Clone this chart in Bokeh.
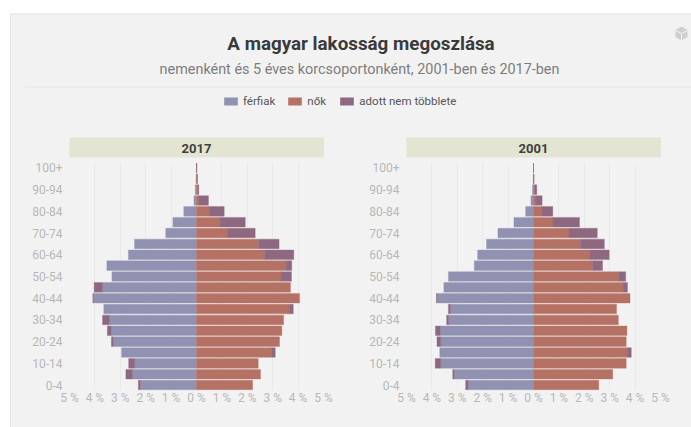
from bokeh.plotting import figure
from bokeh.layouts import column, row
from bokeh.embed import file_html
from bokeh.resources import INLINE
from bokeh.models import Range1d, FixedTicker, Legend, LegendItem
from bokeh.core.properties import value

title_text = "A magyar lakosság megoszlása"
subtitle_text = "nemenként és 5 éves korcsoportonként, 2001-ben és 2017-ben"
series_names = ["férfiak", "nők", "adott nem többlete"]
colors = ["#9192b2", "#b57264", "#8e6880"]
years = ["2017", "2001"]
categories = ["100+", "95-99", "90-94", "85-89", "80-84", "75-79", "70-74", "65-69", "60-64", "55-59", "50-54",
              "45-49", "40-44", "35-39", "30-34", "25-29", "20-24", "15-19", "10-14", "5-9", "0-4"]
male_2017 = [0.0, 0.02, 0.05, 0.10, 0.50, 0.93, 1.21, 2.44, 2.68, 3.53, 3.33,
             4.03, 4.08, 3.65, 3.70, 3.51, 3.35, 2.95, 2.67, 2.78, 2.29]
female_2017 = [0.02, 0.04, 0.09, 0.47, 1.09, 1.92, 2.31, 3.25, 3.83, 3.75, 3.74,
               3.70, 4.06, 3.81, 3.43, 3.36, 3.27, 3.10, 2.43, 2.52, 2.21]
male_2001 = [0.0, 0.01, 0.04, 0.10, 0.31, 0.77, 1.40, 1.85, 2.20, 2.33, 3.35,
             3.53, 3.82, 3.35, 3.42, 3.86, 3.80, 3.69, 3.87, 3.18, 2.67]
female_2001 = [0.0, 0.02, 0.13, 0.34, 0.76, 1.81, 2.51, 2.79, 2.98, 2.72, 3.63,
               3.70, 3.80, 3.27, 3.34, 3.68, 3.65, 3.85, 3.65, 3.12, 2.57]
pct_ticks = [-5, -4, -3, -2, -1, 0, 1, 2, 3, 4, 5]

FONT = "Roboto"
CARD = "#f2f2f2"


def panel(male, female, width, left, right):
    p = figure(width=width, height=267, output_backend="svg", toolbar_location=None,
               x_range=Range1d(-5, 5), y_range=Range1d(20.5, -0.5),
               min_border_left=left, min_border_right=right, min_border_top=2, min_border_bottom=37,
               background_fill_color=CARD, border_fill_color=CARD, outline_line_color=None)
    ys = list(range(len(categories)))
    base = [min(a, b) for a, b in zip(male, female)]
    s_left = [(b if f > m else -m) for m, f, b in zip(male, female, base)]
    s_right = [(f if f > m else -b) for m, f, b in zip(male, female, base)]
    p.hbar(y=ys, left=[-b for b in base], right=[0] * len(ys), height=0.88,
           fill_color=colors[0], line_color=colors[0], line_alpha=0.35, line_width=1)
    p.hbar(y=ys, left=[0] * len(ys), right=base, height=0.88,
           fill_color=colors[1], line_color=colors[1], line_alpha=0.35, line_width=1)
    p.hbar(y=ys, left=s_left, right=s_right, height=0.88,
           fill_color=colors[2], line_color=colors[2], line_alpha=0.35, line_width=1)
    p.xaxis.ticker = FixedTicker(ticks=pct_ticks)
    p.xaxis.major_label_overrides = {t: f"{abs(t)} %" for t in pct_ticks}
    p.yaxis.ticker = FixedTicker(ticks=ys[::2])
    p.yaxis.major_label_overrides = {y: categories[y] for y in ys[::2]}
    for ax in (p.xaxis[0], p.yaxis[0]):
        ax.axis_line_color = None
        ax.major_tick_line_color = None
        ax.major_tick_out = 0
        ax.major_tick_in = 0
        ax.minor_tick_line_color = None
        ax.minor_tick_out = 0
        ax.major_label_text_color = "#b8b8b8"
        ax.major_label_text_font = FONT
        ax.major_label_text_font_size = "12px"
    p.xaxis.major_label_standoff = 0
    p.yaxis.major_label_standoff = 7
    p.xgrid.ticker = FixedTicker(ticks=pct_ticks)
    p.xgrid.grid_line_color = "#e9e9e9"
    p.ygrid.grid_line_color = None
    return p


header = figure(width=680, height=147, output_backend="svg", toolbar_location=None,
                x_range=Range1d(0, 680), y_range=Range1d(147, 0),
                min_border=0, background_fill_color=CARD, border_fill_color=CARD, outline_line_color=None)
header.axis.visible = False
header.grid.visible = False
header.text(x=[349.5], y=[30], text=[title_text], text_font=value(FONT), text_font_style="bold",
            text_font_size="18.8px", text_color="#3a3a3a", text_align="center", text_baseline="middle")
header.text(x=[348], y=[56], text=[subtitle_text], text_font=value(FONT), text_font_size="14.4px",
            text_color="#7d7d7d", text_align="center", text_baseline="middle")
header.segment(x0=[13], y0=[73.5], x1=[680], y1=[73.5], line_color="#e6e6e6", line_width=1)
header.segment(x0=[0], y0=[0.5], x1=[680], y1=[0.5], line_color="#e4e4e4", line_width=1)
header.scatter(x=[670], y=[20], marker="hex", size=14, angle=1.5708, fill_color="#cfcfcf", line_color=None)
header.segment(x0=[664, 670, 670], y0=[17, 20, 20], x1=[670, 676, 670], y1=[20, 17, 27], line_color=CARD, line_width=1)
for bx, yr in zip([58, 395], years):
    header.quad(left=[bx], right=[bx + 254.5], top=[124], bottom=[144], fill_color="#e3e4d1", line_color=None)
    header.text(x=[bx + 127], y=[134.5], text=[yr], text_font=value(FONT), text_font_style="bold",
                text_font_size="13px", text_color="#3f3f3f", text_align="center", text_baseline="middle")

swatches = [header.quad(left=[0], right=[0], top=[0], bottom=[0], fill_color=c, line_color=None) for c in colors]
legend = Legend(items=[LegendItem(label=value(n), renderers=[r]) for n, r in zip(series_names, swatches)],
                orientation="horizontal", location=(211, 52), background_fill_alpha=0, border_line_color=None,
                glyph_width=17, glyph_height=10, label_standoff=4, spacing=11, padding=0, margin=0,
                label_text_font=FONT, label_text_font_size="11.5px", label_text_color="#555555",
                label_height=12)
header.add_layout(legend, "center")

p1 = panel(male_2017, female_2017, 334, 58, 22)
p2 = panel(male_2001, female_2001, 346, 61, 31)

page = column(header, row(p1, p2, spacing=0), spacing=0, margin=(13, 0, 0, 10),
              styles={"background-color": CARD, "border-left": "1px solid #e4e4e4"})
open("out.html", "w").write(file_html(page, INLINE))
